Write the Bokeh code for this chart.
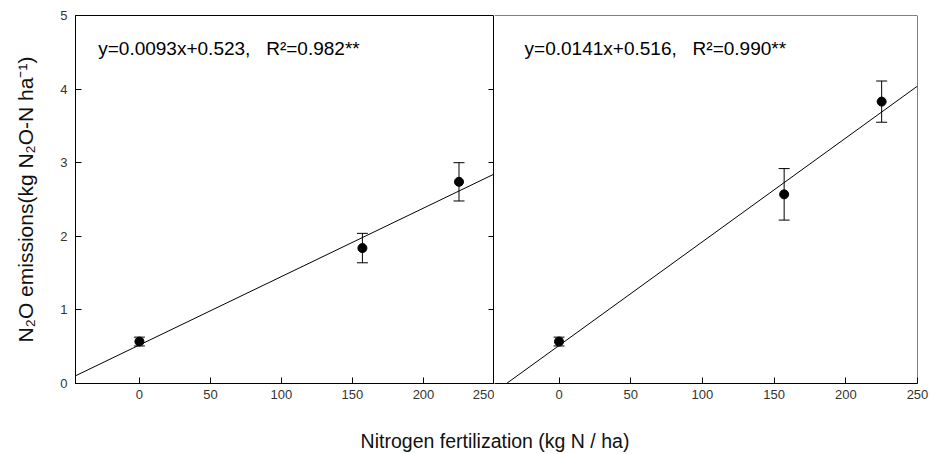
from bokeh.plotting import figure
from bokeh.models import Range1d, FixedTicker, LinearAxis, Whisker, ColumnDataSource, TeeHead, Div, Span
from bokeh.layouts import row, column
from bokeh.core.properties import value
from bokeh.embed import file_html
from bokeh.resources import INLINE

# ---- data ----
n_rate = [0, 157, 225]
emis_left = [0.57, 1.84, 2.74]
err_left = [0.06, 0.20, 0.26]
emis_right = [0.57, 2.57, 3.83]
err_right = [0.06, 0.35, 0.28]
slope = [0.0093, 0.0141]
intercept = [0.523, 0.516]
eq_texts = ["y=0.0093x+0.523,\u00a0\u00a0\u00a0R\u00b2=0.982**",
            "y=0.0141x+0.516,\u00a0\u00a0\u00a0R\u00b2=0.990**"]
x_ticks = [0, 50, 100, 150, 200, 250]
y_ticks = [0, 1, 2, 3, 4, 5]
x_lo, x_hi = -45, 250
y_lo, y_hi = 0, 5

FONT = "Liberation Sans"


def make_panel(emis, err, m, b, eq, left, width, bl, br):
    p = figure(width=width, height=410, output_backend="svg", toolbar_location=None,
               x_range=Range1d(x_lo, x_hi), y_range=Range1d(y_lo, y_hi),
               min_border_left=bl, min_border_right=br, min_border_top=15, min_border_bottom=27)
    p.grid.visible = False
    p.background_fill_color = "white"
    p.border_fill_color = "white"

    xa = p.xaxis[0]
    xa.ticker = FixedTicker(ticks=x_ticks)
    xa.major_tick_in = 6
    xa.major_tick_out = 0
    xa.minor_tick_line_color = None
    xa.axis_line_color = "black"
    xa.major_tick_line_color = "black"
    xa.major_label_text_font = FONT
    xa.major_label_text_font_size = "13px"
    xa.major_label_text_color = "#333333"
    xa.major_label_standoff = 6

    ya = p.yaxis[0]
    if left:
        p.outline_line_color = "black"
        p.outline_line_width = 1
        ya.ticker = FixedTicker(ticks=y_ticks)
        ya.major_tick_in = 6
        ya.major_tick_out = 0
        ya.minor_tick_line_color = None
        ya.axis_line_color = "black"
        ya.major_label_text_font = FONT
        ya.major_label_text_font_size = "13px"
        ya.major_label_text_color = "#333333"
        ya.major_label_standoff = 8
        ya.axis_label = "N\u2082O emissions(kg N\u2082O-N ha\u207b\u00b9)"
        ya.axis_label_text_font = FONT
        ya.axis_label_text_font_size = "21px"
        ya.axis_label_text_font_style = "normal"
        ya.axis_label_text_color = "#111111"
        ya.axis_label_standoff = 20
        ra = LinearAxis(ticker=FixedTicker(ticks=y_ticks[1:-1]), major_tick_in=6, major_tick_out=0,
                        minor_tick_line_color=None, major_label_text_color=None,
                        major_label_standoff=0, axis_line_color=None)
        p.add_layout(ra, "right")
    else:
        p.outline_line_color = None
        ya.visible = False
        p.add_layout(Span(location=y_hi, dimension="width", line_color="black", line_width=1))
        p.add_layout(Span(location=x_hi, dimension="height", line_color="black", line_width=1))

    # regression line, clipped to y >= 0
    xs = max(x_lo, -b / m)
    xe = x_hi
    p.line([xs, xe], [m * xs + b, m * xe + b], line_color="black", line_width=1)

    src = ColumnDataSource(dict(x=n_rate, y=emis,
                                lo=[v - e for v, e in zip(emis, err)],
                                hi=[v + e for v, e in zip(emis, err)]))
    w = Whisker(base="x", lower="lo", upper="hi", source=src, line_color="black", line_width=1,
                lower_head=TeeHead(size=11, line_color="black", line_width=1),
                upper_head=TeeHead(size=11, line_color="black", line_width=1))
    p.add_layout(w)
    p.scatter("x", "y", source=src, size=9, color="black")

    p.text(x=[-29 if left else -24], y=[4.55], text=[eq], text_font=value(FONT),
           text_font_size="19px", text_baseline="middle", text_align="left", text_color="black")
    return p


p1 = make_panel(emis_left, err_left, slope[0], intercept[0], eq_texts[0], True, 494, 75, 0)
p2 = make_panel(emis_right, err_right, slope[1], intercept[1], eq_texts[1], False, 436, 0, 13)

xlab = Div(text='<div style="width:930px;text-align:center;padding-left:60px;box-sizing:border-box;'
                'font-family:Liberation Sans;font-size:19.5px;line-height:22px;color:#111;margin:0;padding-top:20px;">'
                'Nitrogen fertilization (kg N / ha)</div>', width=930, height=44,
           styles={"margin": "0", "padding": "0"})

layout = column(row(p1, p2), xlab)
open("out.html", "w").write(file_html(layout, INLINE))
